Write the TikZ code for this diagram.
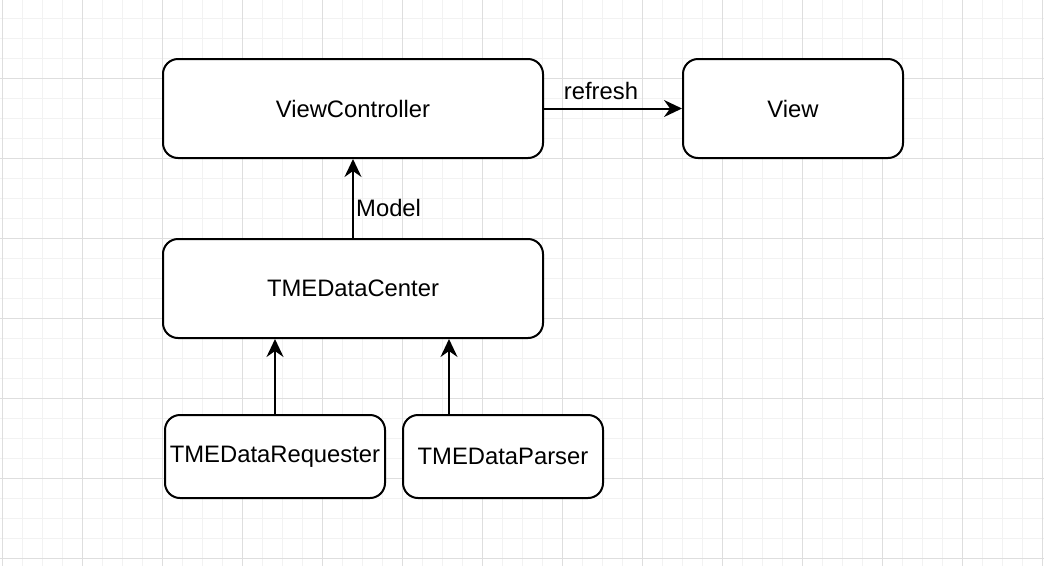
\documentclass[tikz,border=0pt]{standalone}
\usepackage{fontspec}
\setmainfont{Liberation Sans}
\usetikzlibrary{arrows.meta}
\definecolor{minorgrid}{RGB}{242,242,242}
\definecolor{majorgrid}{RGB}{222,222,222}
\newcommand{\lowtxt}[1]{\raisebox{-1.5pt}{#1}}
\tikzset{
  box/.style={draw=black, line width=2pt, rounded corners=15pt, fill=white, inner sep=0pt, align=center, font=\fontsize{23.8}{28}\selectfont},
  arr/.style={line width=2pt, -{Stealth[length=18pt, width=17pt, inset=6pt]}},
  lbl/.style={inner sep=0pt, font=\fontsize{23.8}{28}\selectfont}
}
\begin{document}
\begin{tikzpicture}[x=1pt, y=-1pt]
\useasboundingbox (0,0) rectangle (1044,566);
\fill[white] (0,0) rectangle (1044,566);
% minor grid
\foreach \i in {0,...,52} { \draw[minorgrid, line width=1pt] ({2+20*\i},0) -- ({2+20*\i},566); }
\foreach \j in {1,...,28} { \draw[minorgrid, line width=1pt] (0,{-2+20*\j}) -- (1044,{-2+20*\j}); }
% major grid
\foreach \i in {0,...,13} { \draw[majorgrid, line width=1pt] ({2+80*\i},0) -- ({2+80*\i},566); }
\foreach \j in {1,...,7} { \draw[majorgrid, line width=1pt] (0,{-2+80*\j}) -- (1044,{-2+80*\j}); }

\node[box, minimum width=380pt, minimum height=99pt] (vc) at (353,108.5) {\lowtxt{ViewController}};
\node[box, minimum width=220pt, minimum height=99pt] (view) at (793,108.5) {\lowtxt{View}};
\node[box, minimum width=380pt, minimum height=99pt] (dc) at (353,288.5) {\lowtxt{TMEDataCenter}};
\node[box, minimum width=220pt, minimum height=83pt] (req) at (275,456.5) {\lowtxt{TMEDataRequester}};
\node[box, minimum width=200pt, minimum height=83pt] (par) at (503,456.5) {\lowtxt{TMEDataParser}};

\draw[arr] (vc.east) -- (view.west);
\node[lbl] (lrefresh) at (601,91) {refresh};
\draw[arr] (dc.north) -- (vc.south);
\node[lbl, anchor=west] (lmodel) at (356,208) {Model};
\draw[arr] (req.north) -- (req.north |- dc.south);
\coordinate (pa) at (449,415);
\draw[arr] (pa) -- (pa |- dc.south);
\end{tikzpicture}
\end{document}
